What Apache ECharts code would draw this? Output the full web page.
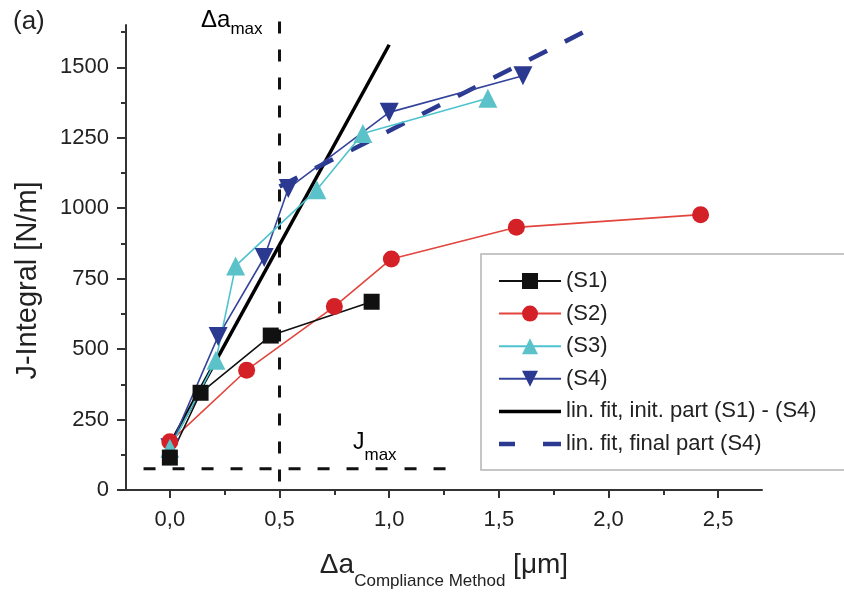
<!DOCTYPE html>
<html>
<head>
<meta charset="utf-8">
<script src="https://cdn.jsdelivr.net/npm/echarts@6/dist/echarts.min.js"></script>
<style>html,body{margin:0;padding:0;background:#fff}#c{width:844px;height:592px}</style>
</head>
<body>
<div id="c"></div>
<script>
// ---- data ----
const seriesNames = ['(S1)', '(S2)', '(S3)', '(S4)', 'lin. fit, init. part (S1) - (S4)', 'lin. fit, final part (S4)'];
const s1 = [[0, 115], [0.14, 345], [0.46, 548], [0.92, 668]];
const s2 = [[0, 171], [0.35, 425], [0.75, 651], [1.01, 820], [1.58, 932], [2.42, 977]];
const s3 = [[0, 148], [0.21, 460], [0.30, 795], [0.67, 1065], [0.88, 1265], [1.45, 1390]];
const s4 = [[0, 150], [0.22, 545], [0.43, 825], [0.54, 1070], [1.00, 1340], [1.61, 1470]];
const fitInit = [[0, 160], [1.0, 1580]];
const fitFinal = [[0.5, 1077], [1.92, 1638]];
const daMaxLine = [[0.5, 30], [0.5, 1680]];
const jMaxLine = [[-0.12, 75], [1.32, 75]];
const xMajorTicks = [0, 0.5, 1.0, 1.5, 2.0, 2.5];
const xMinorTicks = [0.25, 0.75, 1.25, 1.75, 2.25];
const yMajorTicks = [0, 250, 500, 750, 1000, 1250, 1500];
const yMinorTicks = [125, 375, 625, 875, 1125, 1375, 1625];

const FONT = '"Liberation Sans", Arial, sans-serif';
const TXT = '#222';
const AX = '#333';

const chart = echarts.init(document.getElementById('c'));

function dataSeries(name, data, color, lineColor, symbol, size, rotate) {
  return {
    name: name, type: 'line', data: data,
    symbol: symbol, symbolSize: size, symbolRotate: rotate || 0,
    itemStyle: { color: color },
    lineStyle: { color: lineColor, width: 1.6 },
    animation: false, z: 3
  };
}

const legendData = [
  { name: seriesNames[0] }, { name: seriesNames[1] }, { name: seriesNames[2] }, { name: seriesNames[3] },
  { name: seriesNames[4], icon: 'path://M0,0H62V3.5H0Z' },
  { name: seriesNames[5], icon: 'path://M0,0H16V4.5H0ZM44,0H62V4.5H44Z' }
];

const option = {
  animation: false,
  backgroundColor: '#fff',
  grid: { left: 126, right: 82, top: 25, bottom: 102, containLabel: false, outerBoundsMode: 'none' },
  xAxis: [{
    type: 'value', min: -0.2, max: 2.7,
    axisLine: { show: true, onZero: false, lineStyle: { color: AX, width: 2 } },
    axisTick: { show: true, inside: false, length: 8, customValues: xMajorTicks, lineStyle: { color: AX, width: 2 } },
    axisLabel: { show: true, customValues: xMajorTicks, margin: 19, fontSize: 22, fontFamily: FONT, color: TXT,
      formatter: v => v.toFixed(1).replace('.', ',') },
    splitLine: { show: false },
    name: '{m|Δa}{s|Compliance Method}{m| [μm]}',
    nameLocation: 'middle', nameGap: 51,
    nameTextStyle: {
      fontFamily: FONT, color: TXT,
      rich: {
        m: { fontSize: 28, fontFamily: FONT, color: TXT },
        s: { fontSize: 17, fontFamily: FONT, color: TXT, padding: [32, 0, 0, 0] }
      }
    }
  }, {
    type: 'value', min: -0.2, max: 2.7, position: 'bottom',
    axisLine: { show: false, onZero: false },
    axisTick: { show: true, inside: false, length: 5, customValues: xMinorTicks, lineStyle: { color: AX, width: 2 } },
    axisLabel: { show: false },
    splitLine: { show: false }
  }],
  yAxis: [{
    type: 'value', min: 0, max: 1650,
    axisLine: { show: true, onZero: false, lineStyle: { color: AX, width: 2 } },
    axisTick: { show: true, inside: false, length: 9, customValues: yMajorTicks, lineStyle: { color: AX, width: 2 } },
    axisLabel: { show: true, customValues: yMajorTicks, margin: 17, fontSize: 22, fontFamily: FONT, color: TXT,
      formatter: v => String(v) },
    splitLine: { show: false },
    name: 'J-Integral [N/m]',
    nameLocation: 'middle', nameGap: 84,
    nameTextStyle: { fontSize: 29, fontFamily: FONT, color: TXT, padding: [0, 46, 0, 0] }
  }, {
    type: 'value', min: 0, max: 1650, position: 'left',
    axisLine: { show: false, onZero: false },
    axisTick: { show: true, inside: false, length: 5, customValues: yMinorTicks, lineStyle: { color: AX, width: 2 } },
    axisLabel: { show: false },
    splitLine: { show: false }
  }],
  legend: {
    orient: 'vertical', left: 498, top: 270, padding: 0,
    itemWidth: 62, itemHeight: 20, itemGap: 10.6,
    data: legendData,
    textStyle: { fontSize: 22, fontFamily: FONT, color: TXT, lineHeight: 20 }
  },
  graphic: [
    { type: 'rect', z: -1, shape: { x: 481, y: 254, width: 420, height: 216 },
      style: { fill: '#fff', stroke: '#b4b4b4', lineWidth: 1.5 } },
    { type: 'text', x: 13, y: 22, style: { text: '(a)', font: '26px ' + FONT, fill: TXT, textVerticalAlign: 'middle' } },
    { type: 'text', x: 201, y: 20, style: {
      text: '{m|Δa}{s|max}', textVerticalAlign: 'middle',
      rich: { m: { fontSize: 24, fontFamily: FONT, color: TXT }, s: { fontSize: 17, fontFamily: FONT, color: TXT, padding: [18, 0, 0, 0] } } } },
    { type: 'text', x: 353, y: 443, style: {
      text: '{m|J}{s|max}', textVerticalAlign: 'middle',
      rich: { m: { fontSize: 23, fontFamily: FONT, color: TXT }, s: { fontSize: 17, fontFamily: FONT, color: TXT, padding: [24, 0, 0, 0] } } } }
  ],
  series: [
    { name: 'daMax', type: 'line', data: daMaxLine, symbol: 'none', clip: false, silent: true,
      lineStyle: { color: '#111', width: 3, type: [12, 16] }, z: 1 },
    { name: 'jMax', type: 'line', data: jMaxLine, symbol: 'none', clip: false, silent: true,
      lineStyle: { color: '#111', width: 3, type: [12, 17] }, z: 1 },
    dataSeries(seriesNames[3], s4, '#2b3990', '#34449a', 'triangle', 19, 180),
    dataSeries(seriesNames[1], s2, '#d42027', '#e2453e', 'circle', 17),
    dataSeries(seriesNames[2], s3, '#5cc2ca', '#4ec3cf', 'triangle', 19),
    dataSeries(seriesNames[0], s1, '#111111', '#111111', 'rect', 16),
    { name: seriesNames[4], type: 'line', data: fitInit, symbol: 'none', clip: false,
      lineStyle: { color: '#000', width: 3.5 }, itemStyle: { color: '#000' }, z: 2 },
    { name: seriesNames[5], type: 'line', data: fitFinal, symbol: 'none', clip: false,
      lineStyle: { color: '#2b3990', width: 4.5, type: [20, 20] }, itemStyle: { color: '#2b3990' }, z: 2 }
  ]
};
chart.setOption(option);
</script>
</body>
</html>
